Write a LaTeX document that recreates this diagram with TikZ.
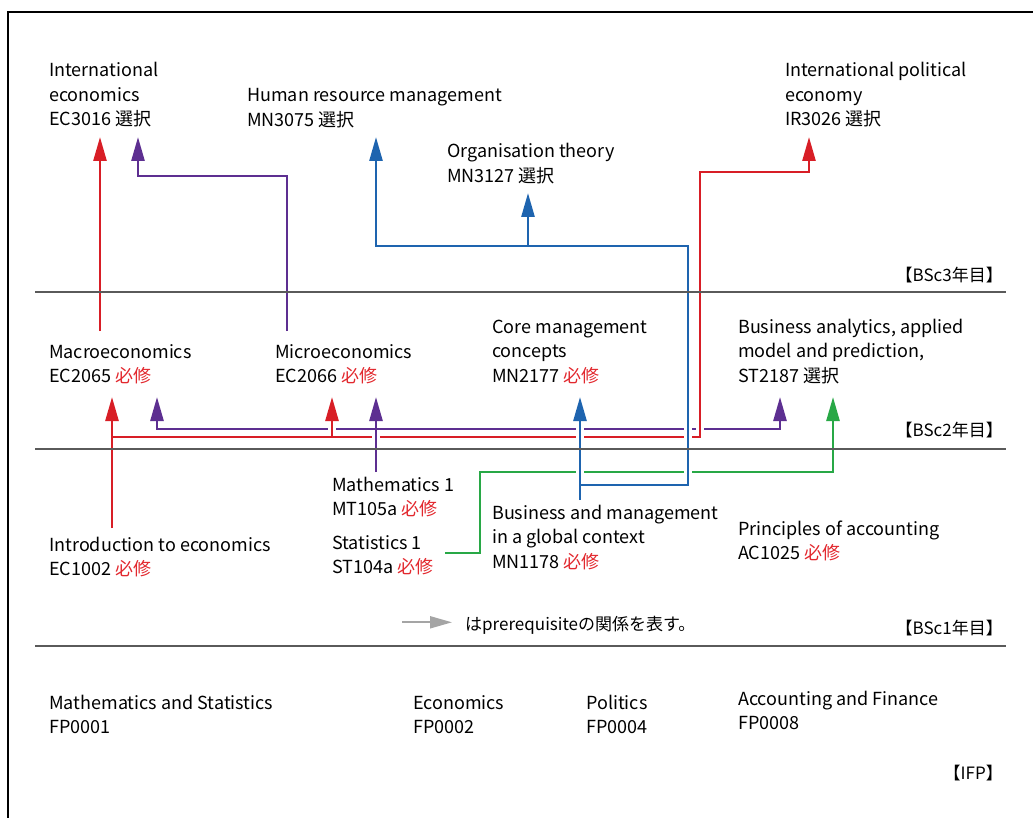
\documentclass[tikz,border=0pt]{standalone}
\usepackage{fontspec}
\setmainfont{Noto Sans CJK JP}
\usepackage{xcolor}
\usepackage{tikz}
\usetikzlibrary{arrows.meta,calc}
\definecolor{PreRed}{RGB}{216,30,38}
\definecolor{PrePurple}{RGB}{93,47,145}
\definecolor{PreBlue}{RGB}{30,100,175}
\definecolor{PreGreen}{RGB}{40,168,70}
\definecolor{ReqRed}{RGB}{226,40,46}
\definecolor{SepGray}{RGB}{90,90,90}
\definecolor{LegGray}{RGB}{165,165,165}
\newcommand{\hisshu}{\textcolor{ReqRed}{必修}}
\newcommand{\sentaku}{選択}
\tikzset{
    course/.style={anchor=base west, align=left, inner sep=0pt, font=\fontsize{18}{24.5}\selectfont},
    yearlbl/.style={anchor=base east, inner sep=0pt, font=\fontsize{17}{24.5}\selectfont},
    prq/.style={line width=2.6pt, -{Triangle[length=24pt,width=13pt]}},
    hop/.style={preaction={draw=white, line width=7.5pt, -, shorten <=3pt, shorten >=12pt}},
    sepline/.style={draw=SepGray, line width=1.5pt},
    legarr/.style={draw=LegGray, line width=2pt, -{Triangle[length=22pt,width=12pt]}},
}

\begin{document}
\begin{tikzpicture}[x=1pt, y=-1pt]
\useasboundingbox (0,0) rectangle (1033,818);
\draw[line width=2pt] (8,830) -- (8,12) -- (1045,12);

% year labels
\node[yearlbl] (y3) at (1003,281) {【BSc3年目】};
\node[yearlbl] (y2) at (1003,436) {【BSc2年目】};
\node[yearlbl] (y1) at (1003,634) {【BSc1年目】};
\node[yearlbl] (yf) at (1003,779) {【IFP】};

% BSc 3
\node[course] (intlecon) at (49,126) {International\\economics\\EC3016 \sentaku};
\node[course] (hrm) at (247,126.5) {Human resource management\\MN3075 \sentaku};
\node[course] (orgth) at (447,182.5) {Organisation theory\\MN3127 \sentaku};
\node[course] (ipe) at (785,126) {International political\\economy\\IR3026 \sentaku};

% BSc 2
\node[course] (macro) at (49,382.5) {Macroeconomics\\EC2065 \hisshu};
\node[course] (micro) at (275,382.5) {Microeconomics\\EC2066 \hisshu};
\node[course] (coremgmt) at (492,382) {Core management\\concepts\\MN2177 \hisshu};
\node[course] (busan) at (738,382) {Business analytics, applied\\model and prediction,\\ST2187 \sentaku};

% BSc 1
\node[course] (math1) at (332,515.5) {Mathematics 1\\MT105a \hisshu};
\node[course] (stat1) at (332,573.5) {Statistics 1\\ST104a \hisshu};
\node[course] (intro) at (49,575.5) {Introduction to economics\\EC1002 \hisshu};
\node[course] (busmgmt) at (492,568) {Business and management\\in a global context\\MN1178 \hisshu};
\node[course] (princacc) at (738,559.5) {Principles of accounting\\AC1025 \hisshu};

\node[course, font=\fontsize{17}{22}\selectfont] (legend) at (465,630) {はprerequisiteの関係を表す。};
\draw[legarr] ([xshift=-63pt,yshift=2.5pt]legend.west) -- ([xshift=-13pt,yshift=2.5pt]legend.west);

% IFP
\node[course] (fp1) at (49,733.5) {Mathematics and Statistics\\FP0001};
\node[course] (fp2) at (413,733.5) {Economics\\FP0002};
\node[course] (fp4) at (586,733.5) {Politics\\FP0004};
\node[course] (fp8) at (738,729.5) {Accounting and Finance\\FP0008};

% arrow ends
\coordinate (ie-r) at (100,137);
\coordinate (ie-p) at (138,137);
\coordinate (hrm-b) at (376,137);
\coordinate (ot-b) at (528,193);
\coordinate (ipe-r) at (809,137);
\coordinate (mac-r) at (112,397);
\coordinate (mac-p) at (157,397);
\coordinate (mic-r) at (332,397);
\coordinate (mic-p) at (376,397);
\coordinate (cm-b) at (580,397);
\coordinate (ba-p) at (780,397);
\coordinate (ba-g) at (833,397);
% arrow starts
\coordinate (mac-o) at (100,331);
\coordinate (mic-o) at (287,331);
\coordinate (int-o) at (112,528);
\coordinate (mt-o) at (376,472);
\coordinate (bm-o) at (580,500);
\coordinate (st-o) at (445,553);
% buses and bends
\coordinate (pbus) at (0,429);
\coordinate (rbus) at (0,437);
\coordinate (bbus) at (0,485);
\coordinate (pup) at (287,176);
\coordinate (rup) at (700,172);
\coordinate (bup) at (688,246);
\coordinate (gup) at (480,472);

% BSc2 -> BSc3
\draw[prq, PreRed] (mac-o) -- (ie-r);
\draw[prq, PrePurple] (mic-o) -- (pup) -| (ie-p);

% BSc1 -> BSc2
\draw[prq, PreGreen] (st-o) -| (gup) -| (ba-g);
\draw[prq, PreRed] (int-o) -- (mac-r);
\draw[line width=2.6pt, line cap=rect, PreRed] (int-o |- rbus) -- (rup |- rbus);
\draw[prq, PrePurple, hop] (mt-o) -- (mic-p);
\draw[prq, PrePurple] (mic-p |- pbus) -| (mac-p);
\draw[prq, PrePurple] (mic-p |- pbus) -| (ba-p);
\draw[prq, PreRed, hop] (mic-r |- rbus) -- (mic-r);
\draw[prq, PreRed, hop] (rup |- rbus) -- (rup) -| (ipe-r);
\draw[prq, PreBlue, hop] (bm-o) -- (cm-b);
\draw[prq, PreBlue, hop] (bm-o |- bbus) -| (bup) -| (hrm-b);
\draw[prq, PreBlue] (ot-b |- bup) -- (ot-b);

% year bands
\draw[sepline] (35,292) -- (1006,292);
\draw[sepline] (35,449) -- (1006,449);
\draw[sepline] (35,646) -- (1006,646);
\end{tikzpicture}
\end{document}
